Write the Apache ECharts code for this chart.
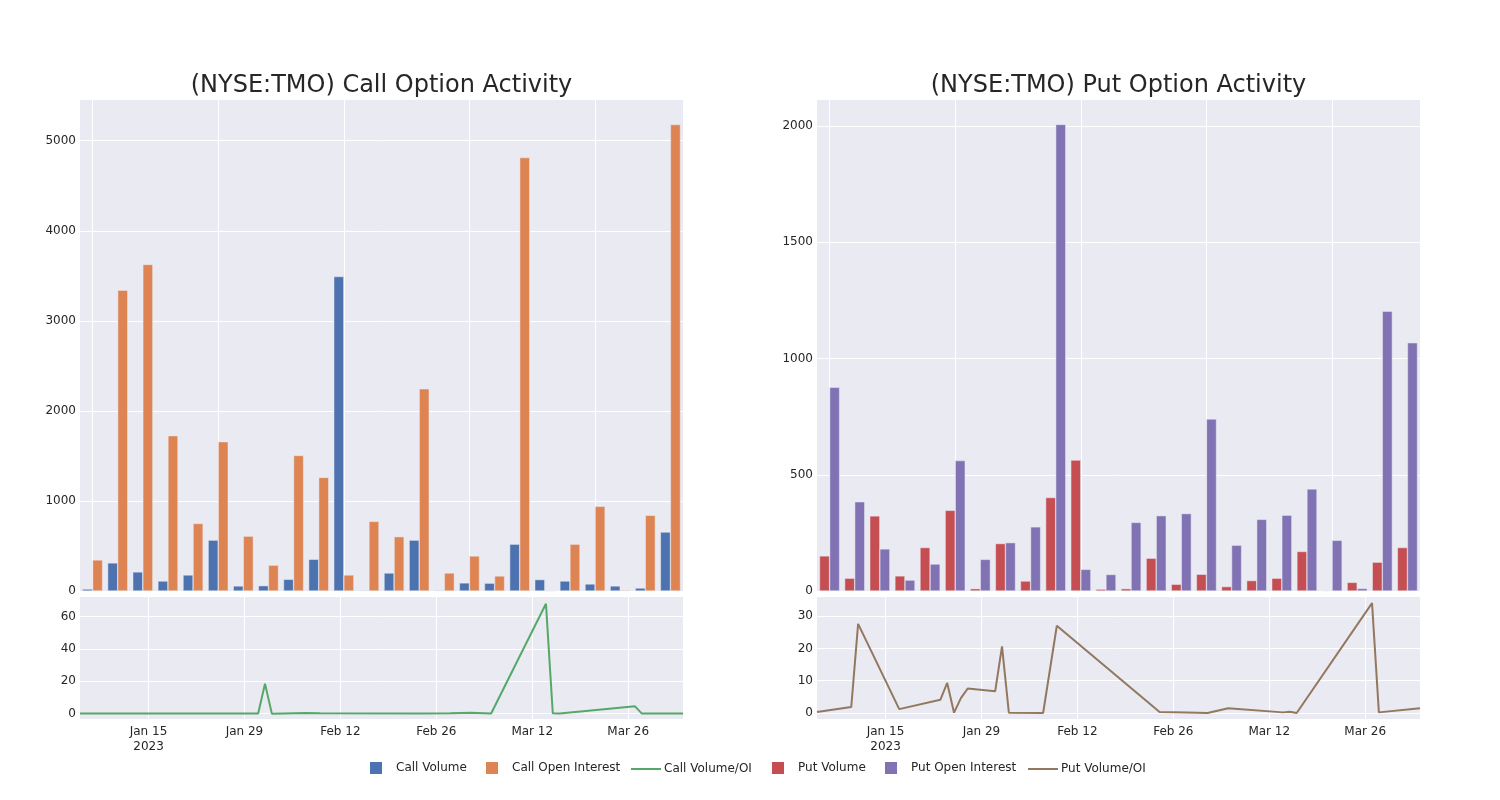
<!DOCTYPE html>
<html><head><meta charset="utf-8">
<script src="https://cdn.jsdelivr.net/npm/echarts@6/dist/echarts.min.js"></script>
<style>html,body{margin:0;padding:0;background:#fff}#c{width:1500px;height:800px}</style>
</head><body><div id="c"></div>
<script>
const dates = ['2023-01-05','2023-01-10','2023-01-11','2023-01-17','2023-01-23','2023-01-24','2023-01-25','2023-01-26','2023-01-27','2023-01-31','2023-02-01','2023-02-02','2023-02-07','2023-02-09','2023-02-24','2023-02-28','2023-03-03','2023-03-06','2023-03-14','2023-03-15','2023-03-16','2023-03-27','2023-03-28','2023-04-03'];
const callVolume = [22,312,212,111,178,565,56,59,130,352,3492,7,200,565,7,90,87,520,127,111,78,56,33,655];
const callOpenInterest = [345,3340,3626,1725,750,1658,609,287,1505,1261,178,773,603,2245,200,389,167,4813,2,520,940,10,840,5180];
const callVolOI = [0.06,0.09,0.06,0.06,0.08,0.1,0.09,0.08,0.09,0.1,18.5,0.01,0.33,0.25,0.04,0.23,0.52,0.1,67.8,0.2,0.08,4.5,0.04,0.13];
const putVolume = [151,55,323,65,187,347,10,204,43,402,563,8,10,141,29,72,19,45,55,170,2,37,124,187];
const putOpenInterest = [876,384,181,47,116,561,136,208,276,2007,93,71,295,324,333,740,197,308,326,439,218,11,1203,1068];
const putVolOI = [0.3,1.85,27.6,1.2,4.1,9.3,0.1,4.6,7.6,6.7,20.6,0.1,0.0,27,0.3,0.15,0.0,1.5,0.2,0.4,0.0,34,0.2,1.5];

const callBarTicks = [0,1000,2000,3000,4000,5000];
const putBarTicks = [0,500,1000,1500,2000];
const callLineTicks = [0,20,40,60];
const putLineTicks = [0,10,20,30];
const lineTickDates = ['2023-01-15','2023-01-29','2023-02-12','2023-02-26','2023-03-12','2023-03-26'];
const lineTickLabels = ['Jan 15\n2023','Jan 29','Feb 12','Feb 26','Mar 12','Mar 26'];

const titles = ['(NYSE:TMO) Call Option Activity','(NYSE:TMO) Put Option Activity'];

const ts = d => Date.parse(d + 'T00:00:00Z');
const tickTs = lineTickDates.map(ts);
const TXT = '#262626';
const BG = '#eaeaf2';
const FONT = 'DejaVu Sans';
const C = {cv:'#4c72b0', coi:'#dd8452', cr:'#55a868', pv:'#c44e52', poi:'#8172b3', pr:'#937860'};

const grids = [
  {left:80, top:100, width:603, height:491},
  {left:80, top:597, width:603, height:122},
  {left:817, top:100, width:603, height:491},
  {left:817, top:597, width:603, height:122}
].map(g => Object.assign({backgroundColor:BG, show:true, borderWidth:0, containLabel:false}, g));

function barX(gi){
  return {type:'category', gridIndex:gi, data:dates, boundaryGap:true,
    axisLine:{show:false}, axisTick:{show:false}, axisLabel:{show:false},
    splitLine:{show:true, alignWithLabel:true, interval:(i)=> i%5===0, lineStyle:{color:'#fff', width:1}}};
}
function lineX(gi){
  return {type:'value', gridIndex:gi, min:ts(dates[0]), max:ts(dates[dates.length-1]),
    axisLine:{show:false}, axisTick:{show:false, customValues:tickTs},
    axisLabel:{show:true, customValues:tickTs, color:TXT, fontFamily:FONT, fontSize:12, margin:5, lineHeight:15,
      formatter:(v)=>{const i = tickTs.indexOf(v); return i>=0 ? lineTickLabels[i] : '';}},
    splitLine:{show:true, lineStyle:{color:'#fff', width:1}}};
}
function yAx(gi, min, max, ticks){
  return {type:'value', gridIndex:gi, min:min, max:max,
    axisLine:{show:false}, axisTick:{show:false, customValues:ticks},
    axisLabel:{show:true, customValues:ticks, color:TXT, fontFamily:FONT, fontSize:12, margin:4,
      formatter:(v)=>String(v)},
    splitLine:{show:true, lineStyle:{color:'#fff', width:1}}};
}

function bar(name, gi, data, color){
  return {name, type:'bar', xAxisIndex:gi, yAxisIndex:gi, data, barGap:'0%', barCategoryGap:'20%',
    itemStyle:{color, borderColor:BG, borderWidth:0.5}, animation:false};
}
function line(name, gi, vals, color){
  return {name, type:'line', xAxisIndex:gi, yAxisIndex:gi, data:dates.map((d,i)=>[ts(d), vals[i]]),
    showSymbol:false, symbol:'none', lineStyle:{color, width:2}, itemStyle:{color}, animation:false};
}

const legendItems = [
  {name:'Call Volume', left:370, w:12, h:12, top:762, color:C.cv},
  {name:'Call Open Interest', left:486, w:12, h:12, top:762, color:C.coi},
  {name:'Call Volume/OI', left:631, w:30, h:2, top:763, color:C.cr},
  {name:'Put Volume', left:772, w:12, h:12, top:762, color:C.pv},
  {name:'Put Open Interest', left:885, w:12, h:12, top:762, color:C.poi},
  {name:'Put Volume/OI', left:1028, w:30, h:2, top:763, color:C.pr}
];
const legends = legendItems.map(it => ({
  data:[{name:it.name, icon:'rect', itemStyle:{color:it.color, borderWidth:0}}], left:it.left, top:it.top, padding:0,
  itemWidth:it.w, itemHeight:it.h, selectedMode:false,
  textStyle:{color:TXT, fontFamily:FONT, fontSize:12, padding: it.w===12 ? [0,0,0,9] : [0,0,0,-2]}
}));

const option = {
  backgroundColor:'#fff',
  animation:false,
  textStyle:{fontFamily:FONT},
  title:[
    {text:titles[0], left:381.5, textAlign:'center', top:74, padding:0, textStyle:{color:TXT, fontFamily:FONT, fontSize:24, fontWeight:'normal'}},
    {text:titles[1], left:1118.5, textAlign:'center', top:74, padding:0, textStyle:{color:TXT, fontFamily:FONT, fontSize:24, fontWeight:'normal'}}
  ],
  legend: legends,
  grid: grids,
  xAxis:[barX(0), lineX(1), barX(2), lineX(3)],
  yAxis:[yAx(0,0,5452,callBarTicks), yAx(1,-3.3,72,callLineTicks), yAx(2,0,2112,putBarTicks), yAx(3,-1.85,35.9,putLineTicks)],
  series:[
    bar('Call Volume',0,callVolume,C.cv),
    bar('Call Open Interest',0,callOpenInterest,C.coi),
    line('Call Volume/OI',1,callVolOI,C.cr),
    bar('Put Volume',2,putVolume,C.pv),
    bar('Put Open Interest',2,putOpenInterest,C.poi),
    line('Put Volume/OI',3,putVolOI,C.pr)
  ]
};
const chart = echarts.init(document.getElementById('c'), null, {renderer:'canvas'});
chart.setOption(option);
</script>
</body></html>
